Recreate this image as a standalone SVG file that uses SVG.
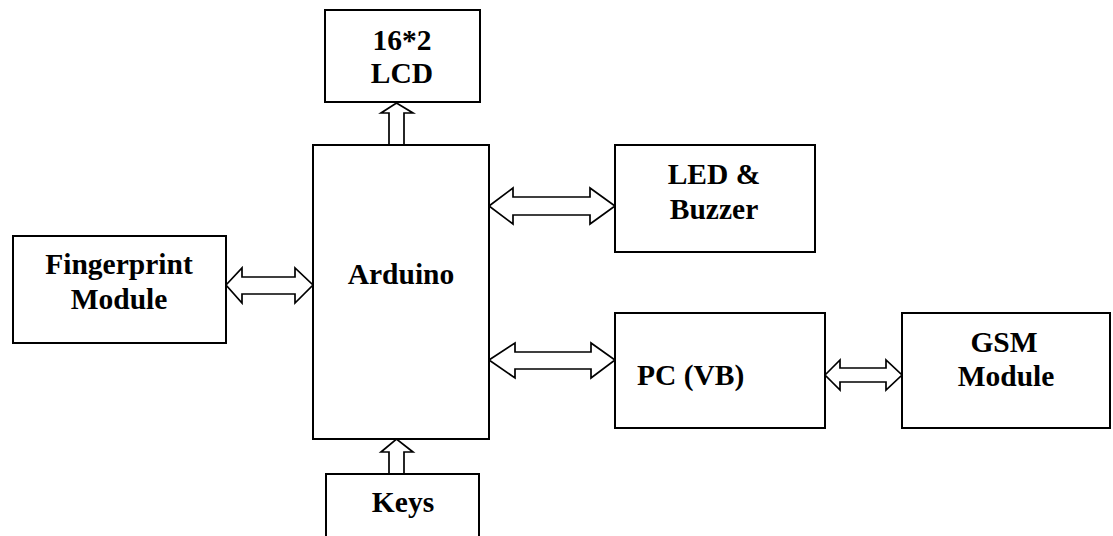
<svg xmlns="http://www.w3.org/2000/svg" width="1113" height="536" viewBox="0 0 1113 536">
<style>
.box{fill:#fff;stroke:#000;stroke-width:2}
.arr{fill:#fff;stroke:#000;stroke-width:1.7;stroke-linejoin:miter}
.t{font-family:"Liberation Serif","Times New Roman",serif;font-weight:bold;font-size:29.5px;fill:#000;text-anchor:middle}
</style>
<rect width="1113" height="536" fill="#fff"/>
<g id="connectors">
<polygon class="arr" points="389,145 389,113 381,113 396.5,103 413,113 404,113 404,145"/>
<polygon class="arr" points="389,474 389,452 381,452 396.5,439 413,452 404,452 404,474"/>
<polygon class="arr" points="489,206 513,188 513,197 590,197 590,188 615,206 590,224 590,215 513,215 513,224"/>
<polygon class="arr" points="226,285 242,268 242,277 295,277 295,268 313,285 295,303 295,294 242,294 242,303"/>
<polygon class="arr" points="489,360 515,343 515,352 591,352 591,343 615,360 591,378 591,369 515,369 515,378"/>
<polygon class="arr" points="825,375 840,360 840,368 886,368 886,360 902,375 886,390 886,382 840,382 840,390"/>
</g>
<g id="lcd">
<rect class="box" x="325" y="10" width="155" height="92"/>
<text class="t" x="402" y="50">16*2</text>
<text class="t" x="402" y="83">LCD</text>
</g>
<g id="arduino">
<rect class="box" x="313" y="145" width="176" height="294"/>
<text class="t" x="401" y="284">Arduino</text>
</g>
<g id="fingerprint">
<rect class="box" x="13" y="236" width="213" height="107"/>
<text class="t" x="119" y="274">Fingerprint</text>
<text class="t" x="119" y="309">Module</text>
</g>
<g id="led">
<rect class="box" x="615" y="145" width="200" height="107"/>
<text class="t" x="714" y="184">LED &amp;</text>
<text class="t" x="714" y="219">Buzzer</text>
</g>
<g id="pc">
<rect class="box" x="615" y="313" width="210" height="115"/>
<text class="t" x="637" y="385" style="text-anchor:start">PC (VB)</text>
</g>
<g id="gsm">
<rect class="box" x="902" y="313" width="208" height="115"/>
<text class="t" x="1004" y="352">GSM</text>
<text class="t" x="1006" y="386">Module</text>
</g>
<g id="keys">
<rect class="box" x="326" y="474" width="153" height="80"/>
<text class="t" x="403" y="512">Keys</text>
</g>
</svg>
